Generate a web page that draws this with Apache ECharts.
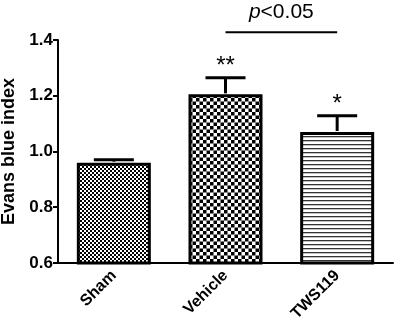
<!DOCTYPE html>
<html>
<head>
<meta charset="utf-8">
<script src="https://cdn.jsdelivr.net/npm/echarts@6/dist/echarts.min.js"></script>
<style>
  html, body { margin: 0; padding: 0; background: #fff; }
  #chart { width: 398px; height: 335px; }
</style>
</head>
<body>
<div id="chart"></div>
<script>
  const categories = ["Sham", "Vehicle", "TWS119"];
  const means = [0.96, 1.205, 1.07];
  const errorTops = [0.97, 1.265, 1.128];
  const stars = ["", "**", "*"];
  const yTicks = [0.6, 0.8, 1.0, 1.2, 1.4];
  // comparison bracket between Vehicle and TWS119
  const bracket = { from: 1, to: 2, level: 1.428, textLevel: 1.5 };

  const font = "Liberation Sans, Arial, sans-serif";

  // 填充图案
  const makePattern = (size, draw) => {
    const c = document.createElement("canvas");
    c.width = size;
    c.height = size;
    const ctx = c.getContext("2d");
    ctx.fillStyle = "#fff";
    ctx.fillRect(0, 0, size, size);
    ctx.fillStyle = "#000";
    draw(ctx);
    return { image: c, repeat: "repeat" };
  };
  const fineChecker = makePattern(4, ctx => {
    ctx.fillRect(0, 0, 2, 2);
    ctx.fillRect(2, 2, 2, 2);
  });
  const coarseChecker = makePattern(7, ctx => {
    ctx.fillRect(0, 0, 3.5, 3.5);
    ctx.fillRect(3.5, 3.5, 3.5, 3.5);
  });
  const hLines = makePattern(4, ctx => {
    ctx.fillStyle = "#333";
    ctx.fillRect(0, 0, 4, 1.3);
  });
  const patterns = [fineChecker, coarseChecker, hLines];

  const chart = echarts.init(document.getElementById("chart"));

  const option = {
    animation: false,
    grid: { left: 58, right: 5, top: 40, bottom: 72, outerBoundsMode: "none" },
    xAxis: {
      type: "category",
      data: categories,
      axisLine: { lineStyle: { color: "#000", width: 2 } },
      axisTick: { alignWithLabel: true, length: 6, lineStyle: { color: "#000", width: 2 } },
      axisLabel: {
        rotate: 45,
        color: "#000",
        fontWeight: "bold",
        fontSize: 16,
        fontFamily: font,
        margin: 10
      }
    },
    yAxis: {
      type: "value",
      min: 0.6,
      max: 1.4,
      interval: 0.2,
      name: "Evans blue index",
      nameLocation: "middle",
      nameGap: 37,
      nameTextStyle: { color: "#000", fontWeight: "bold", fontSize: 18, fontFamily: font },
      splitLine: { show: false },
      axisLine: { show: true, lineStyle: { color: "#000", width: 2 } },
      axisTick: { show: true, length: 5, lineStyle: { color: "#000", width: 2 } },
      axisLabel: {
        color: "#000",
        fontWeight: "bold",
        fontSize: 17,
        fontFamily: font,
        margin: 5,
        formatter: v => yTicks.includes(Math.round(v * 10) / 10) ? v.toFixed(1) : ""
      }
    },
    series: [
      {
        type: "bar",
        barWidth: 74,
        data: means.map((v, i) => ({
          value: v,
          itemStyle: { color: patterns[i], borderColor: "#000", borderWidth: 3 }
        })),
        z: 2
      },
      {
        // 误差线 + 星号
        type: "custom",
        z: 3,
        data: errorTops.map((e, i) => [i, means[i], e]),
        renderItem: (params, api) => {
          const base = api.coord([api.value(0), api.value(1)]);
          const top = api.coord([api.value(0), api.value(2)]);
          const half = 20;
          const children = [
            { type: "line", shape: { x1: base[0], y1: base[1] - 1, x2: top[0], y2: top[1] }, style: { stroke: "#000", lineWidth: 3 } },
            { type: "line", shape: { x1: top[0] - half, y1: top[1], x2: top[0] + half, y2: top[1] }, style: { stroke: "#000", lineWidth: 3 } }
          ];
          const s = stars[params.dataIndex];
          if (s) {
            children.push({
              type: "text",
              style: {
                text: s, x: top[0], y: top[1] - 11,
                align: "center", verticalAlign: "middle",
                font: "24px " + font, fill: "#000"
              }
            });
          }
          return { type: "group", children };
        }
      },
      {
        type: "custom",
        z: 3,
        clip: false,
        data: [[bracket.from, bracket.to, bracket.level, bracket.textLevel]],
        renderItem: (params, api) => {
          const a = api.coord([api.value(0), api.value(2)]);
          const b = api.coord([api.value(1), api.value(2)]);
          const ty = api.coord([api.value(0), api.value(3)])[1];
          const mid = (a[0] + b[0]) / 2;
          return {
            type: "group",
            children: [
              { type: "line", shape: { x1: a[0], y1: a[1], x2: b[0], y2: b[1] }, style: { stroke: "#000", lineWidth: 2 } },
              {
                type: "text",
                style: {
                  text: "{i|p}{n|<0.05}", x: mid, y: ty,
                  align: "center", verticalAlign: "middle",
                  fontSize: 21, fontFamily: font, fill: "#000",
                  rich: {
                    i: { fontStyle: "italic", fontSize: 21, fontFamily: font },
                    n: { fontSize: 21, fontFamily: font }
                  }
                }
              }
            ]
          };
        }
      }
    ]
  };

  chart.setOption(option);
</script>
</body>
</html>
